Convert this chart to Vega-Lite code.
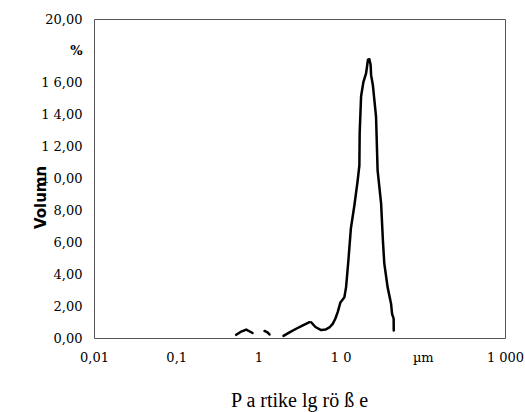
{
  "$schema": "https://vega.github.io/schema/vega-lite/v6.json",
  "width": 411,
  "height": 319,
  "autosize": {"type": "none"},
  "padding": {"left": 94, "top": 19, "right": 20, "bottom": 74},
  "background": "white",
  "config": {
    "view": {"stroke": "#555555", "strokeWidth": 1}
  },
  "data": {
    "values": [
      {"seg": 1, "i": 1, "size": 0.537, "vol": 0.20},
      {"seg": 1, "i": 2, "size": 0.606, "vol": 0.38},
      {"seg": 1, "i": 3, "size": 0.711, "vol": 0.53},
      {"seg": 1, "i": 4, "size": 0.818, "vol": 0.36},
      {"seg": 1, "i": 5, "size": 0.848, "vol": 0.31},
      {"seg": 2, "i": 6, "size": 1.186, "vol": 0.44},
      {"seg": 2, "i": 7, "size": 1.29, "vol": 0.35},
      {"seg": 2, "i": 8, "size": 1.364, "vol": 0.22},
      {"seg": 3, "i": 9, "size": 2.02, "vol": 0.13},
      {"seg": 3, "i": 10, "size": 2.39, "vol": 0.35},
      {"seg": 3, "i": 11, "size": 2.88, "vol": 0.58},
      {"seg": 3, "i": 12, "size": 3.43, "vol": 0.78},
      {"seg": 3, "i": 13, "size": 4.18, "vol": 0.99},
      {"seg": 4, "i": 14, "size": 4.38, "vol": 0.99},
      {"seg": 4, "i": 15, "size": 4.94, "vol": 0.69},
      {"seg": 4, "i": 16, "size": 5.80, "vol": 0.50},
      {"seg": 4, "i": 17, "size": 6.54, "vol": 0.53},
      {"seg": 4, "i": 18, "size": 7.31, "vol": 0.66},
      {"seg": 4, "i": 19, "size": 8.02, "vol": 0.89},
      {"seg": 4, "i": 20, "size": 8.65, "vol": 1.22},
      {"seg": 4, "i": 21, "size": 9.22, "vol": 1.62},
      {"seg": 4, "i": 22, "size": 9.95, "vol": 2.23},
      {"seg": 4, "i": 23, "size": 11.12, "vol": 2.56},
      {"seg": 4, "i": 24, "size": 11.66, "vol": 3.19},
      {"seg": 4, "i": 25, "size": 12.44, "vol": 4.87},
      {"seg": 4, "i": 26, "size": 13.34, "vol": 6.87},
      {"seg": 4, "i": 27, "size": 14.72, "vol": 8.32},
      {"seg": 4, "i": 28, "size": 16.15, "vol": 9.89},
      {"seg": 4, "i": 29, "size": 16.92, "vol": 10.83},
      {"seg": 4, "i": 30, "size": 17.06, "vol": 12.84},
      {"seg": 4, "i": 31, "size": 17.75, "vol": 15.16},
      {"seg": 4, "i": 32, "size": 18.93, "vol": 16.04},
      {"seg": 4, "i": 33, "size": 20.4, "vol": 16.59},
      {"seg": 4, "i": 34, "size": 21.0, "vol": 17.04},
      {"seg": 4, "i": 35, "size": 21.5, "vol": 17.45},
      {"seg": 4, "i": 36, "size": 22.4, "vol": 17.48},
      {"seg": 4, "i": 37, "size": 23.2, "vol": 17.11},
      {"seg": 4, "i": 38, "size": 23.5, "vol": 16.48},
      {"seg": 4, "i": 39, "size": 24.7, "vol": 15.85},
      {"seg": 4, "i": 40, "size": 27.0, "vol": 13.86},
      {"seg": 4, "i": 41, "size": 28.2, "vol": 10.51},
      {"seg": 4, "i": 42, "size": 31.1, "vol": 8.44},
      {"seg": 4, "i": 43, "size": 32.7, "vol": 6.12},
      {"seg": 4, "i": 44, "size": 34.0, "vol": 4.68},
      {"seg": 4, "i": 45, "size": 37.3, "vol": 3.19},
      {"seg": 4, "i": 46, "size": 41.1, "vol": 2.15},
      {"seg": 4, "i": 47, "size": 42.3, "vol": 1.52},
      {"seg": 4, "i": 48, "size": 44.2, "vol": 1.21},
      {"seg": 4, "i": 49, "size": 44.3, "vol": 0.47}
    ]
  },
  "mark": {"type": "line", "color": "black", "strokeWidth": 2.5, "strokeJoin": "round", "strokeCap": "round"},
  "encoding": {
    "x": {
      "field": "size",
      "type": "quantitative",
      "scale": {"type": "log", "domain": [0.01, 1000]},
      "axis": {
        "values": [0.01, 0.1, 1, 10, 100, 1000],
        "labelExpr": "datum.value < 0.05 ? '0,01' : datum.value < 0.5 ? '0,1' : datum.value < 5 ? '1' : datum.value < 50 ? '1 0' : datum.value < 500 ? 'µm' : '1 000'",
        "domain": false,
        "ticks": false,
        "grid": false,
        "labelFlush": false,
        "labelOverlap": false,
        "labelFont": "DejaVu Serif",
        "labelFontSize": 13,
        "labelColor": "black",
        "labelPadding": 13,
        "title": "P a rtike lg rö ß e",
        "titleFont": "Liberation Serif",
        "titleFontSize": 20,
        "titleFontWeight": "normal",
        "titleColor": "black",
        "titleX": 205,
        "titleY": 68,
        "titleAnchor": "middle",
        "titleBaseline": "alphabetic"
      }
    },
    "y": {
      "field": "vol",
      "type": "quantitative",
      "scale": {"domain": [0, 20]},
      "axis": {
        "values": [0, 2, 4, 6, 8, 10, 12, 14, 16, 18, 20],
        "labelExpr": "datum.value == 18 ? '%' : (datum.value >= 10 && datum.value < 20 ? '1 ' + replace(format(datum.value - 10, '.2f'), '.', ',') : replace(format(datum.value, '.2f'), '.', ','))",
        "domain": false,
        "ticks": false,
        "grid": false,
        "labelFlush": false,
        "labelOverlap": false,
        "labelFont": "DejaVu Serif",
        "labelFontSize": 13,
        "labelFontWeight": {"condition": {"test": "datum.value == 18", "value": "bold"}, "value": "normal"},
        "labelColor": "black",
        "labelPadding": 12,
        "title": "Volumn",
        "titleFont": "DejaVu Sans",
        "titleFontSize": 15,
        "titleFontWeight": "bold",
        "titleColor": "black",
        "titleX": -54,
        "titleY": 178,
        "titleAngle": 270,
        "titleAnchor": "middle",
        "titleBaseline": "middle"
      }
    },
    "detail": {"field": "seg", "type": "nominal"},
    "order": {"field": "i", "type": "quantitative"}
  }
}
